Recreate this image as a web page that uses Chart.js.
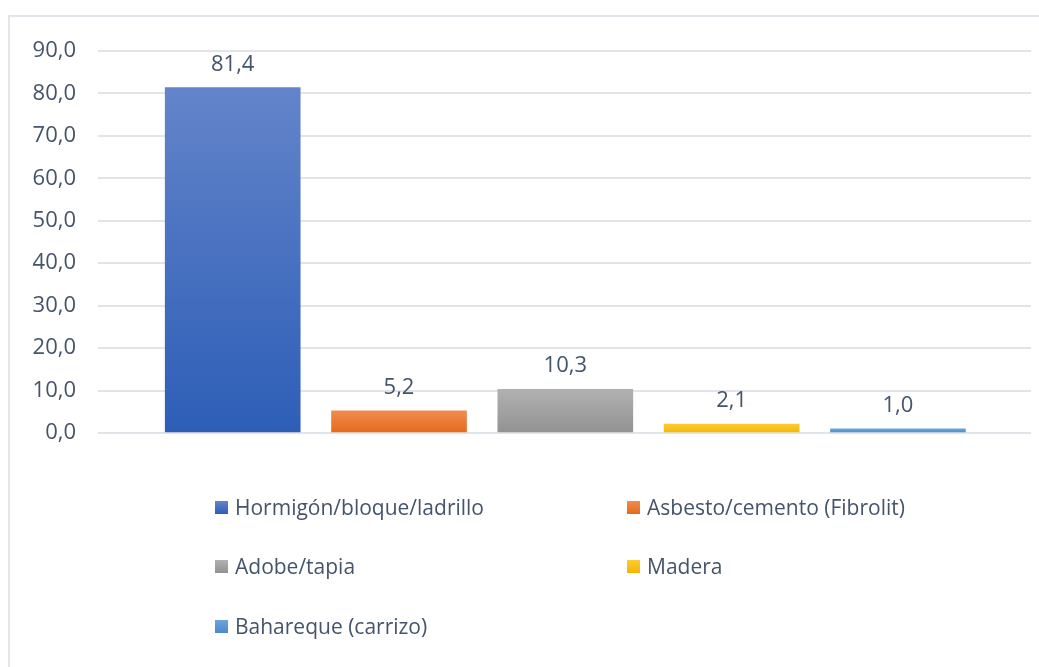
<!DOCTYPE html>
<html lang="es">
<head>
<meta charset="utf-8">
<script src="https://cdn.jsdelivr.net/npm/chart.js@4/dist/chart.umd.min.js"></script>
<style>
  html, body { margin: 0; padding: 0; background: #fff; }
  #wrap { position: relative; width: 1039px; height: 667px; overflow: hidden; font-family: 'Open Sans', sans-serif; }
  #frame { position: absolute; left: 8px; top: 15px; width: 1200px; height: 800px; border-top: 2px solid #e2e5e9; border-left: 2px solid #e2e5e9; }
  #chartBox { position: absolute; left: 0; top: 0; width: 1039px; height: 470px; }
  #legend { position: absolute; left: 0; top: 0; width: 1039px; height: 667px; pointer-events: none; }
  .item { position: absolute; display: flex; align-items: center; height: 30px; color: #44546a; font-size: 21px; white-space: nowrap; }
  .item span.box { width: 13px; height: 13px; margin-right: 7px; }
</style>
</head>
<body>
<div id="wrap">
  <div id="frame"></div>
  <div id="chartBox"><canvas id="materialChart"></canvas></div>
  <div id="legend"></div>
</div>
<script>
const categories = ['Hormigón/bloque/ladrillo', 'Asbesto/cemento (Fibrolit)', 'Adobe/tapia', 'Madera', 'Bahareque (carrizo)'];
const values = [81.4, 5.2, 10.3, 2.1, 1.0];
const yTicks = [0, 10, 20, 30, 40, 50, 60, 70, 80, 90];
const topColors = ['#6384ca', '#f08c4f', '#b1b1b1', '#ffca35', '#6ba5dc'];
const bottomColors = ['#2d5eb7', '#e5691a', '#929292', '#f2b700', '#4a8bcb'];

const fmt = (v) => v.toFixed(1).replace('.', ',');
const textColor = '#44546a';
const font = { family: "'Open Sans', sans-serif", size: 22 };

const barFill = (i) => (ctx) => {
  const chart = ctx.chart;
  if (!chart.chartArea || ctx.type !== 'data') return bottomColors[i];
  const y = chart.scales.y;
  const top = y.getPixelForValue(ctx.raw.y);
  const bottom = y.getPixelForValue(0);
  const g = chart.ctx.createLinearGradient(0, top, 0, bottom);
  g.addColorStop(0, topColors[i]);
  g.addColorStop(1, bottomColors[i]);
  return g;
};

const valueLabels = {
  id: 'valueLabels',
  afterDatasetsDraw(chart) {
    const c = chart.ctx;
    c.save();
    c.font = `${font.size}px ${font.family}`;
    c.fillStyle = textColor;
    c.textAlign = 'center';
    c.textBaseline = 'alphabetic';
    chart.data.datasets.forEach((ds, i) => {
      const meta = chart.getDatasetMeta(i);
      meta.data.forEach((bar, j) => {
        c.fillText(fmt(ds.data[j].y), bar.x, bar.y - 17);
      });
    });
    c.restore();
  },
};

new Chart(document.getElementById('materialChart'), {
  type: 'bar',
  data: {
    datasets: categories.map((label, i) => ({
      label: label,
      data: [{ x: i, y: values[i] }],
      backgroundColor: barFill(i),
      borderWidth: 0,
      barThickness: 135,
      grouped: false,
    })),
  },
  options: {
    responsive: true,
    maintainAspectRatio: false,
    animation: false,
    layout: { padding: { top: 51, right: 8, bottom: 37, left: 0 } },
    plugins: { legend: { display: false }, tooltip: { enabled: false } },
    scales: {
      x: { type: 'linear', display: false, min: -0.81, max: 4.8, offset: false },
      y: {
        min: yTicks[0],
        max: yTicks[yTicks.length - 1],
        afterFit: (scale) => { scale.width = 98; },
        afterBuildTicks: (scale) => { scale.ticks = yTicks.map((v) => ({ value: v })); },
        ticks: { callback: (v) => fmt(v), color: textColor, font: font, padding: 22 },
        grid: { color: '#e1e4e9', lineWidth: 2, drawTicks: false },
        border: { display: false },
      },
    },
  },
  plugins: [valueLabels],
});

// legend laid out like the original: two columns, three rows
const cols = [215, 627];
const rows = [492, 551, 611];
document.getElementById('legend').innerHTML = categories
  .map((label, i) => `
    <div class="item" style="left:${cols[i % 2]}px; top:${rows[Math.floor(i / 2)]}px;">
      <span class="box" style="background: linear-gradient(${topColors[i]}, ${bottomColors[i]});"></span>${label}
    </div>`)
  .join('');
</script>
</body>
</html>
